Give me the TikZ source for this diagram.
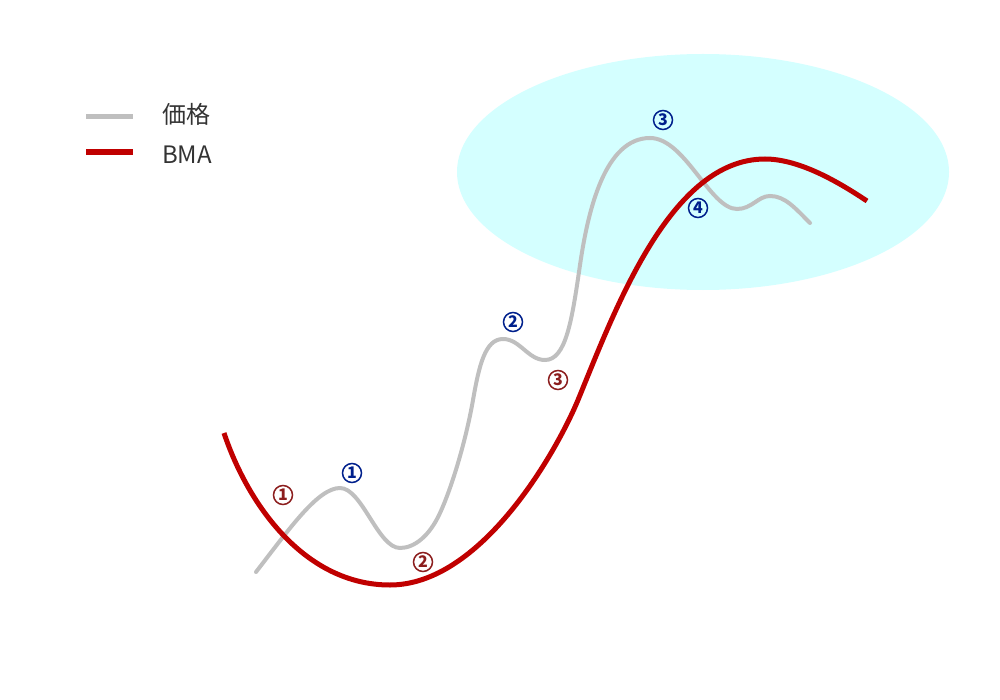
\documentclass[tikz,border=0pt]{standalone}
\usepackage{fontspec}
\setmainfont{Noto Sans CJK JP}
\usepackage{xcolor}
\usetikzlibrary{shapes,positioning}

\definecolor{pricegray}{RGB}{191,191,191}
\definecolor{bmared}{RGB}{192,0,0}
\definecolor{zonecyan}{RGB}{212,255,255}
\definecolor{numblue}{RGB}{0,32,140}
\definecolor{numred}{RGB}{140,30,30}

\begin{document}
\begin{tikzpicture}[x=0.5pt, y=-0.5pt,
    pricel/.style={draw=pricegray, line width=2pt, line cap=round},
    bmal/.style={draw=bmared, line width=2.5pt},
    numlab/.style={circle, draw, line width=0.75pt, inner sep=0pt, minimum size=9.5pt, font=\fontsize{8}{9}\selectfont\bfseries},
    bluenum/.style={numlab, draw=numblue, text=numblue},
    rednum/.style={numlab, draw=numred, text=numred},
    legtext/.style={anchor=west, text=black!80, font=\fontsize{12}{14}\selectfont}]
    \useasboundingbox (0,0) rectangle (1000,700);

    % zone of the top
    \fill[zonecyan] (703,172) ellipse [x radius=246, y radius=118];

    % legend
    \coordinate (pa) at (86,117);
    \coordinate (pb) at (133,117);
    \coordinate (ba) at (86,152);
    \coordinate (bb) at (133,152);
    \draw[pricel, line width=2.5pt, line cap=butt] (pa) -- (pb);
    \draw[bmal, line width=3pt] (ba) -- (bb);
    \node (lprice) [legtext] at (155,114) {価格};
    \node (lbma) [legtext] at (155,155) {BMA};

    % price
    \draw[pricel] (256,572)
        .. controls (290,528) and (318,488) .. (340,488)
        .. controls (362,488) and (378,548) .. (400,548)
        .. controls (415,548) and (430,535) .. (440,513)
        .. controls (452,487) and (466,440) .. (473,400)
        .. controls (479,366) and (485,339) .. (503,339)
        .. controls (520,339) and (528,360) .. (545,360)
        .. controls (566,360) and (572,320) .. (580,265)
        .. controls (588,210) and (605,138) .. (650,138)
        .. controls (685,138) and (710,209) .. (737,209)
        .. controls (752,209) and (758,196) .. (770,196)
        .. controls (785,196) and (795,208) .. (810,223);

    % BMA
    \draw[bmal] (224,433)
        .. controls (248,505) and (305,585) .. (390,585)
        .. controls (480,585) and (555,455) .. (578,400)
        .. controls (615,310) and (670,159) .. (765,159)
        .. controls (800,159) and (840,183) .. (867,201);

    % numbers
    \node (r1) [rednum] at (283,495) {1};
    \node (r2) [rednum] at (423,562) {2};
    \node (r3) [rednum] at (558,380) {3};
    \node (b1) [bluenum] at (352,473) {1};
    \node (b2) [bluenum] at (513,322) {2};
    \node (b3) [bluenum] at (663,120) {3};
    \node (b4) [bluenum] at (698,208) {4};
\end{tikzpicture}
\end{document}
